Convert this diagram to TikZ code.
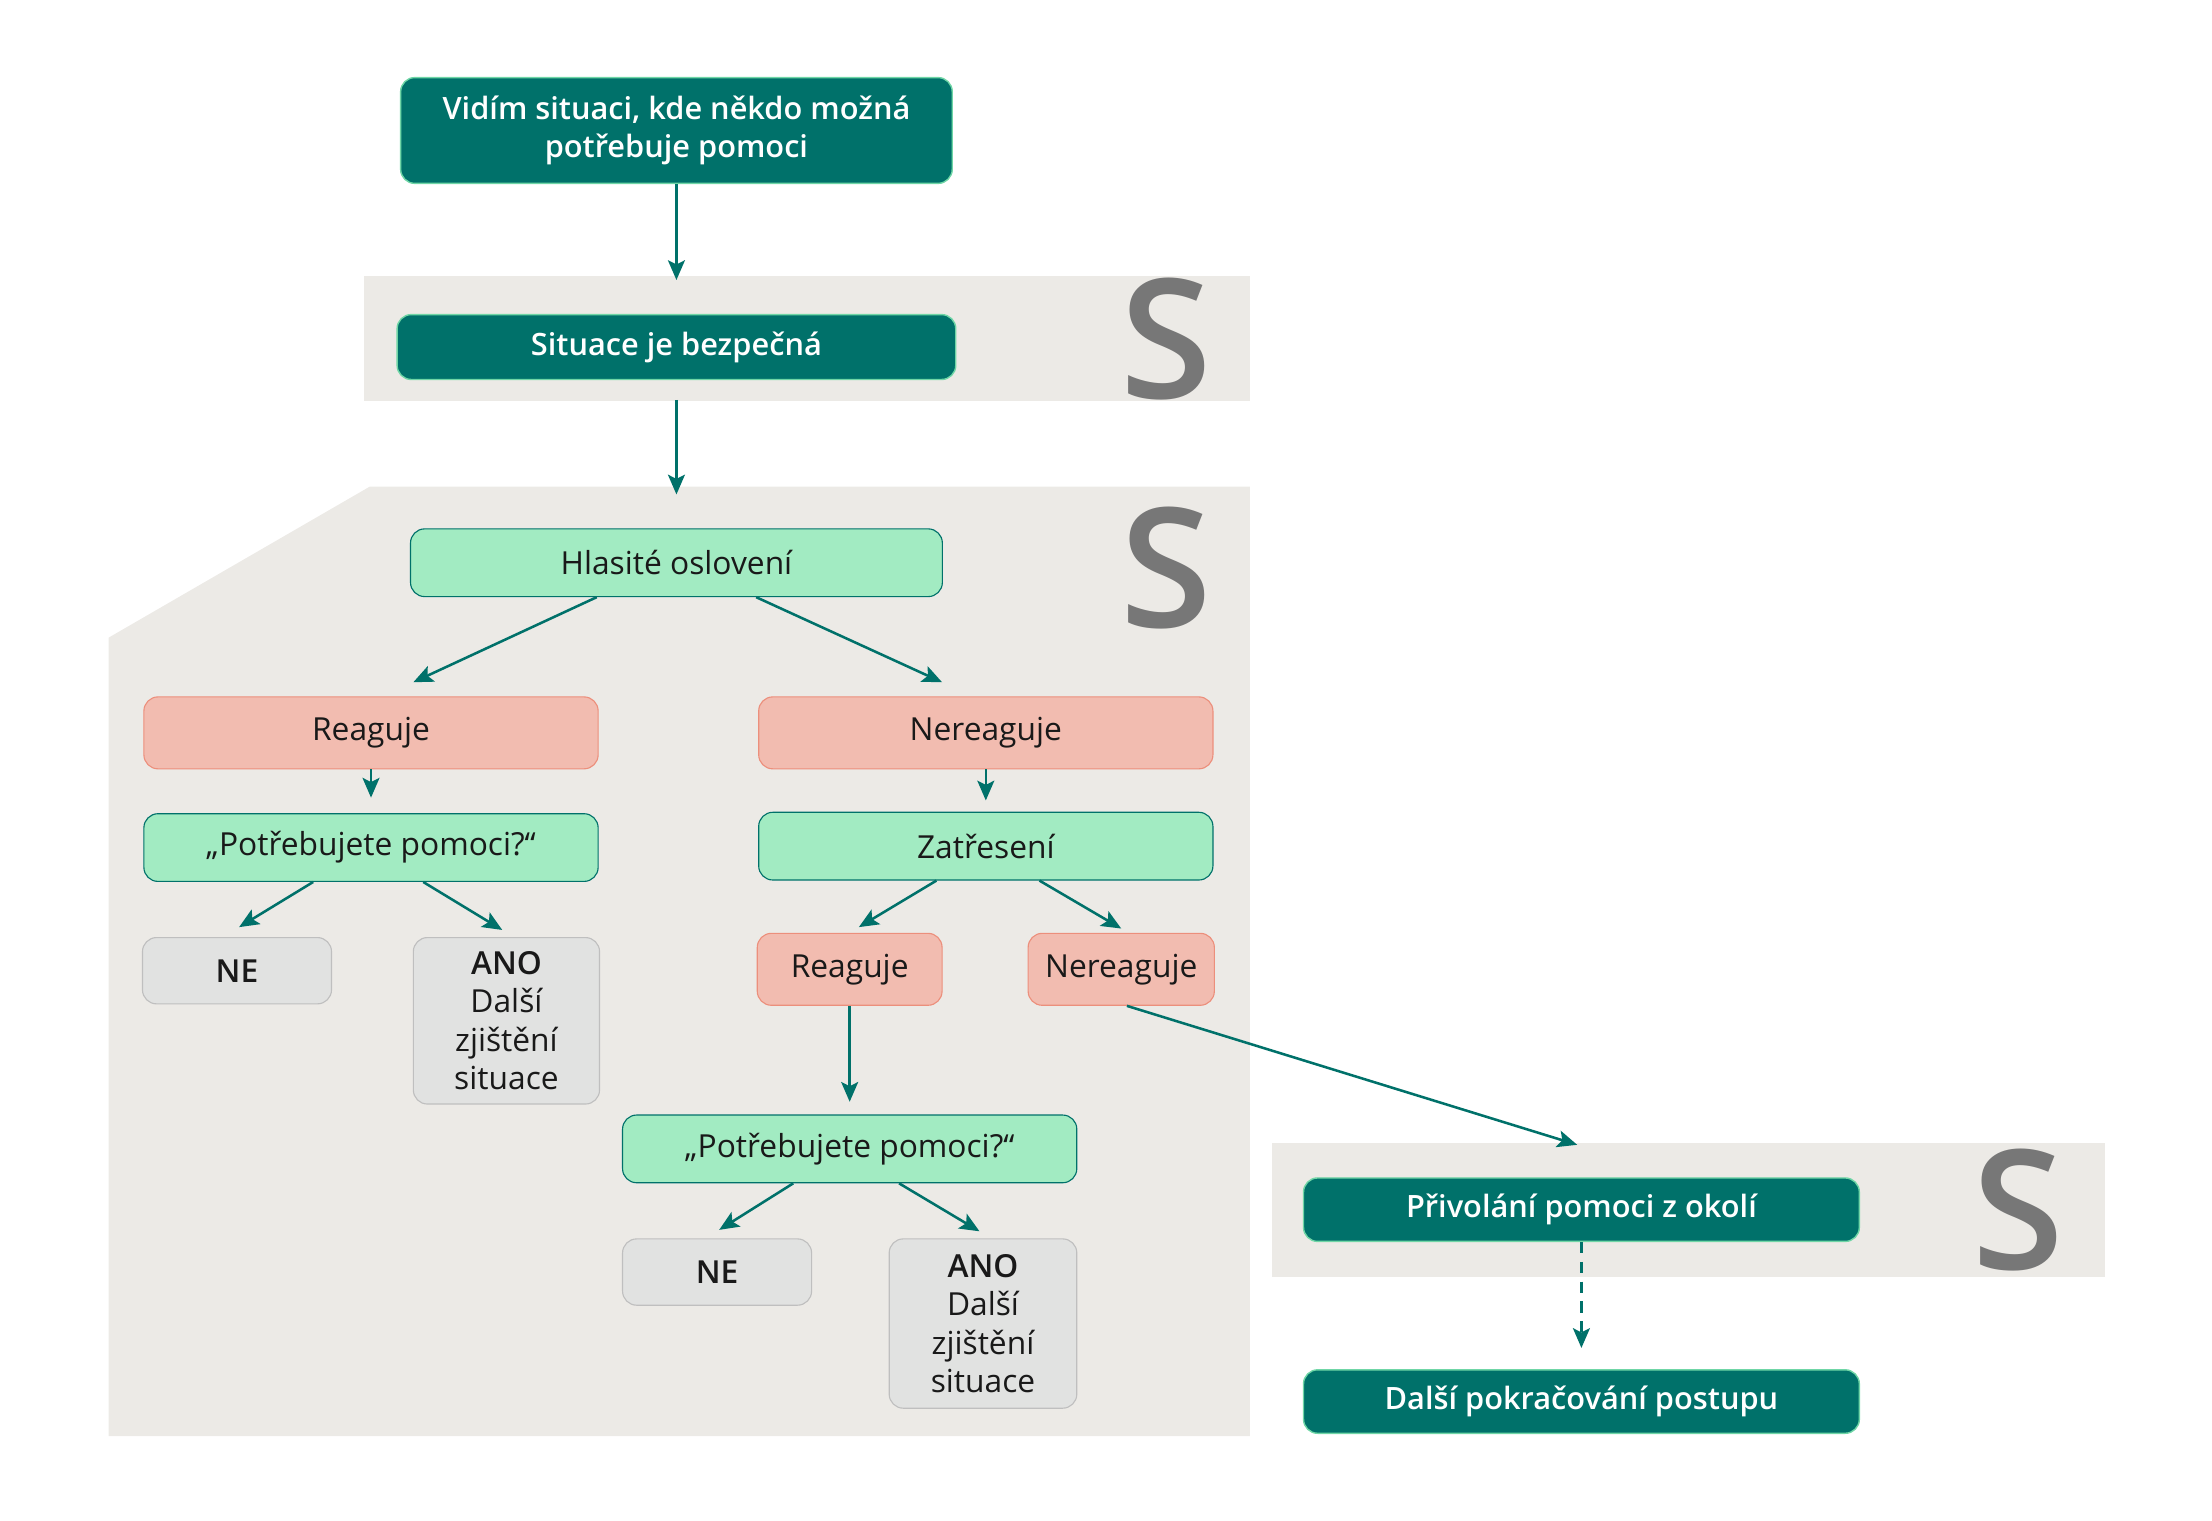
\documentclass[tikz,border=0pt]{standalone}
\usepackage{fontspec}
\IfFontExistsTF{Open Sans SemiBold}{%
  \setmainfont{Open Sans}[BoldFont={Open Sans SemiBold}]}{%
  \IfFontExistsTF{Open Sans Semibold}{%
    \setmainfont{Open Sans}[BoldFont={Open Sans Semibold}]}{%
    \IfFontExistsTF{OpenSans-SemiBold}{%
      \setmainfont{Open Sans}[BoldFont={OpenSans-SemiBold}]}{%
      \setmainfont{Open Sans}}}}
\usetikzlibrary{arrows.meta,positioning}
\definecolor{darkcolor}{HTML}{00716A}
\definecolor{darkedge}{HTML}{6FD6A6}
\definecolor{askcolor}{HTML}{A2EBC2}
\definecolor{reactcolor}{HTML}{F2BCB0}
\definecolor{reactedge}{HTML}{EC8F7C}
\definecolor{answercolor}{HTML}{E1E2E1}
\definecolor{answeredge}{HTML}{BFBFBF}
\definecolor{bandcolor}{HTML}{ECEAE6}
\definecolor{letercolor}{HTML}{777777}
\newcommand\boxfont{\fontsize{22.5}{27.2}\selectfont}
\newcommand\darkfont{\fontsize{21.8}{27.2}\selectfont\bfseries}
\tikzset{
    darkbox/.style={
        shape=rectangle,
        draw=darkedge,
        line width=1pt,
        fill=darkcolor,
        text=white,
        font=\darkfont,
        align=center,
        rounded corners=10pt,
        inner sep=0pt
    },
    askbox/.style={
        shape=rectangle,
        draw=darkcolor,
        line width=0.8pt,
        fill=askcolor,
        text=black!90,
        font=\boxfont,
        align=center,
        rounded corners=10pt,
        inner sep=0pt,
        minimum width=322pt,
        minimum height=48pt
    },
    reactbox/.style={
        shape=rectangle,
        draw=reactedge,
        line width=0.8pt,
        fill=reactcolor,
        text=black!90,
        font=\boxfont,
        align=center,
        rounded corners=10pt,
        inner sep=0pt,
        minimum height=51pt
    },
    answerbox/.style={
        shape=rectangle,
        draw=answeredge,
        line width=0.8pt,
        fill=answercolor,
        text=black!90,
        font=\boxfont,
        align=center,
        rounded corners=10pt,
        inner sep=0pt,
        minimum width=134pt
    },
    band/.style={
        fill=bandcolor
    },
    bigletter/.style={
        text=letercolor,
        font=\fontsize{118}{118}\selectfont\bfseries,
        inner sep=0pt
    },
    transition/.style={
        draw=darkcolor,
        line width=1.8pt,
        -{Stealth[length=14pt, width=12pt, inset=3pt]}
    },
    hint/.style={
        transition,
        dash pattern=on 8pt off 6pt
    }
}
\begin{document}
\begin{tikzpicture}[x=1pt, y=-1pt]
    \useasboundingbox (0,0) rectangle (1568,1078);

    % grey bands
    \fill[band] (258,196) rectangle (886,284);
    \fill[band] (262,345) -- (886,345) -- (886,1018) -- (77,1018) -- (77,452) -- cycle;
    \fill[band] (902,810) rectangle (1492,905);

    \node[bigletter] (s1) at (827,240) {S};
    \node[bigletter] (s2) at (827,403) {S};
    \node[bigletter] (s3) at (1431,858) {S};

    \node[darkbox, minimum width=391pt, minimum height=75pt] (start) at (479.5,92.5)
        {Vidím situaci, kde někdo možná\\potřebuje pomoci};
    \node[darkbox, minimum width=396pt, minimum height=46pt, below=92pt of start] (safe)
        {Situace je bezpečná};

    \node[askbox, minimum width=377pt, below=105pt of safe] (call) {Hlasité oslovení};

    \node[reactbox, minimum width=322pt] (reactL) at (263,519.5) {Reaguje};
    \node[reactbox, minimum width=322pt, right=113pt of reactL] (noreact) {Nereaguje};

    \node[askbox, below=31pt of reactL] (askL) {„Potřebujete pomoci?“};
    \node[askbox, below=30pt of noreact] (shake) {Zatřesení};

    \node[answerbox, minimum height=47pt, below right=39pt and -1pt of askL.south west] (noL)
        {\bfseries NE};
    \node[answerbox, minimum width=132pt, minimum height=118pt, below left=39pt and -1pt of askL.south east] (yesL)
        {\bfseries ANO\\Další\\zjištění\\situace};

    \node[reactbox, minimum width=131pt, below right=37pt and -1pt of shake.south west] (react2) {Reaguje};
    \node[reactbox, minimum width=132pt, below left=37pt and -1pt of shake.south east] (noreact2) {Nereaguje};

    \node[askbox, below=77pt of react2] (ask2) {„Potřebujete pomoci?“};
    \node[answerbox, minimum height=47pt, below right=39pt and 0pt of ask2.south west] (no2)
        {\bfseries NE};
    \node[answerbox, minimum width=133pt, minimum height=120pt, below left=39pt and 0pt of ask2.south east] (yes2)
        {\bfseries ANO\\Další\\zjištění\\situace};

    \node[darkbox, minimum width=394pt, minimum height=45pt] (help) at (1121,857.5)
        {Přivolání pomoci z okolí};
    \node[darkbox, minimum width=394pt, minimum height=45pt, below=90pt of help] (next)
        {Další pokračování postupu};

    \begin{scope} % connectors
        \draw[transition, shorten >=24pt] (start) to (safe);
        \draw[transition, shorten <=14pt, shorten >=24pt] (safe) to (call);

        \draw[transition] ([xshift=-56.5pt]call.south) to ([xshift=30pt, yshift=10pt]reactL.north);
        \draw[transition] ([xshift=56.5pt]call.south) to ([xshift=-31pt, yshift=10pt]noreact.north);

        \draw[transition, shorten >=11pt] (reactL) to (askL);
        \draw[transition, shorten >=8pt] (noreact) to (shake);

        \draw[transition] ([xshift=-41pt]askL.south) to ([xshift=1.5pt, yshift=7pt]noL.north);
        \draw[transition] ([xshift=37pt]askL.south) to ([xshift=-3pt, yshift=5pt]yesL.north);

        \draw[transition] ([xshift=-35pt]shake.south) to ([xshift=6.5pt, yshift=4pt]react2.north);
        \draw[transition] ([xshift=38pt]shake.south) to ([xshift=0pt, yshift=3pt]noreact2.north);

        \draw[transition, shorten >=9pt] (react2) to (ask2);

        \draw[transition] ([xshift=-40pt]ask2.south) to ([xshift=1.5pt, yshift=6pt]no2.north);
        \draw[transition] ([xshift=35pt]ask2.south) to ([xshift=-2.5pt, yshift=5pt]yes2.north);

        \draw[transition] ([xshift=4pt]noreact2.south) to ([xshift=-3pt, yshift=23pt]help.north);
        \draw[hint, shorten >=15pt] (help) to (next);
    \end{scope}
\end{tikzpicture}
\end{document}
